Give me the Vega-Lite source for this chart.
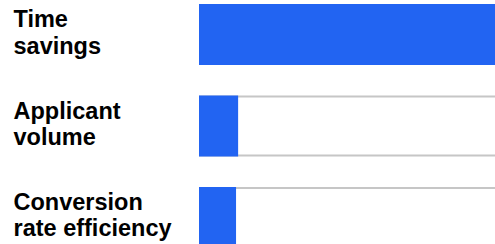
{
  "$schema": "https://vega.github.io/schema/vega-lite/v6.json",
  "autosize": "none",
  "width": 297,
  "height": 252,
  "padding": {"left": 200, "top": 0, "right": 0, "bottom": 0},
  "background": "white",
  "config": {"view": {"stroke": null}},
  "data": {"values": [
    {"label": "Time savings", "value": 100},
    {"label": "Applicant volume", "value": 12.5},
    {"label": "Conversion rate efficiency", "value": 11.8}
  ]},
  "encoding": {
    "y": {
      "field": "label", "type": "nominal", "sort": null,
      "scale": {"paddingInner": 0.355, "paddingOuter": 0.055},
      "axis": {
        "title": null, "domain": false, "ticks": false, "tickSize": 0,
        "labelAlign": "left", "labelPadding": 187, "labelLimit": 300,
        "labelFont": "Liberation Sans", "labelFontWeight": "bold", "labelFontSize": 23.5,
        "labelColor": "#000000", "labelLineHeight": 26.5, "labelBaseline": "alphabetic",
        "labelOffset": -7.5,
        "labelExpr": "[substring(datum.label, 0, indexof(datum.label, ' ')), substring(datum.label, indexof(datum.label, ' ') + 1)]"
      }
    }
  },
  "layer": [
    {
      "mark": {"type": "bar", "fill": "white", "stroke": "#c6c6c6", "strokeWidth": 2},
      "encoding": {
        "x": {"datum": 100, "type": "quantitative", "scale": {"domain": [0, 100], "nice": false}, "axis": null}
      }
    },
    {
      "mark": {"type": "bar", "color": "#2264f2", "stroke": "#2264f2", "strokeWidth": 2},
      "encoding": {
        "x": {"field": "value", "type": "quantitative", "axis": null}
      }
    }
  ]
}
